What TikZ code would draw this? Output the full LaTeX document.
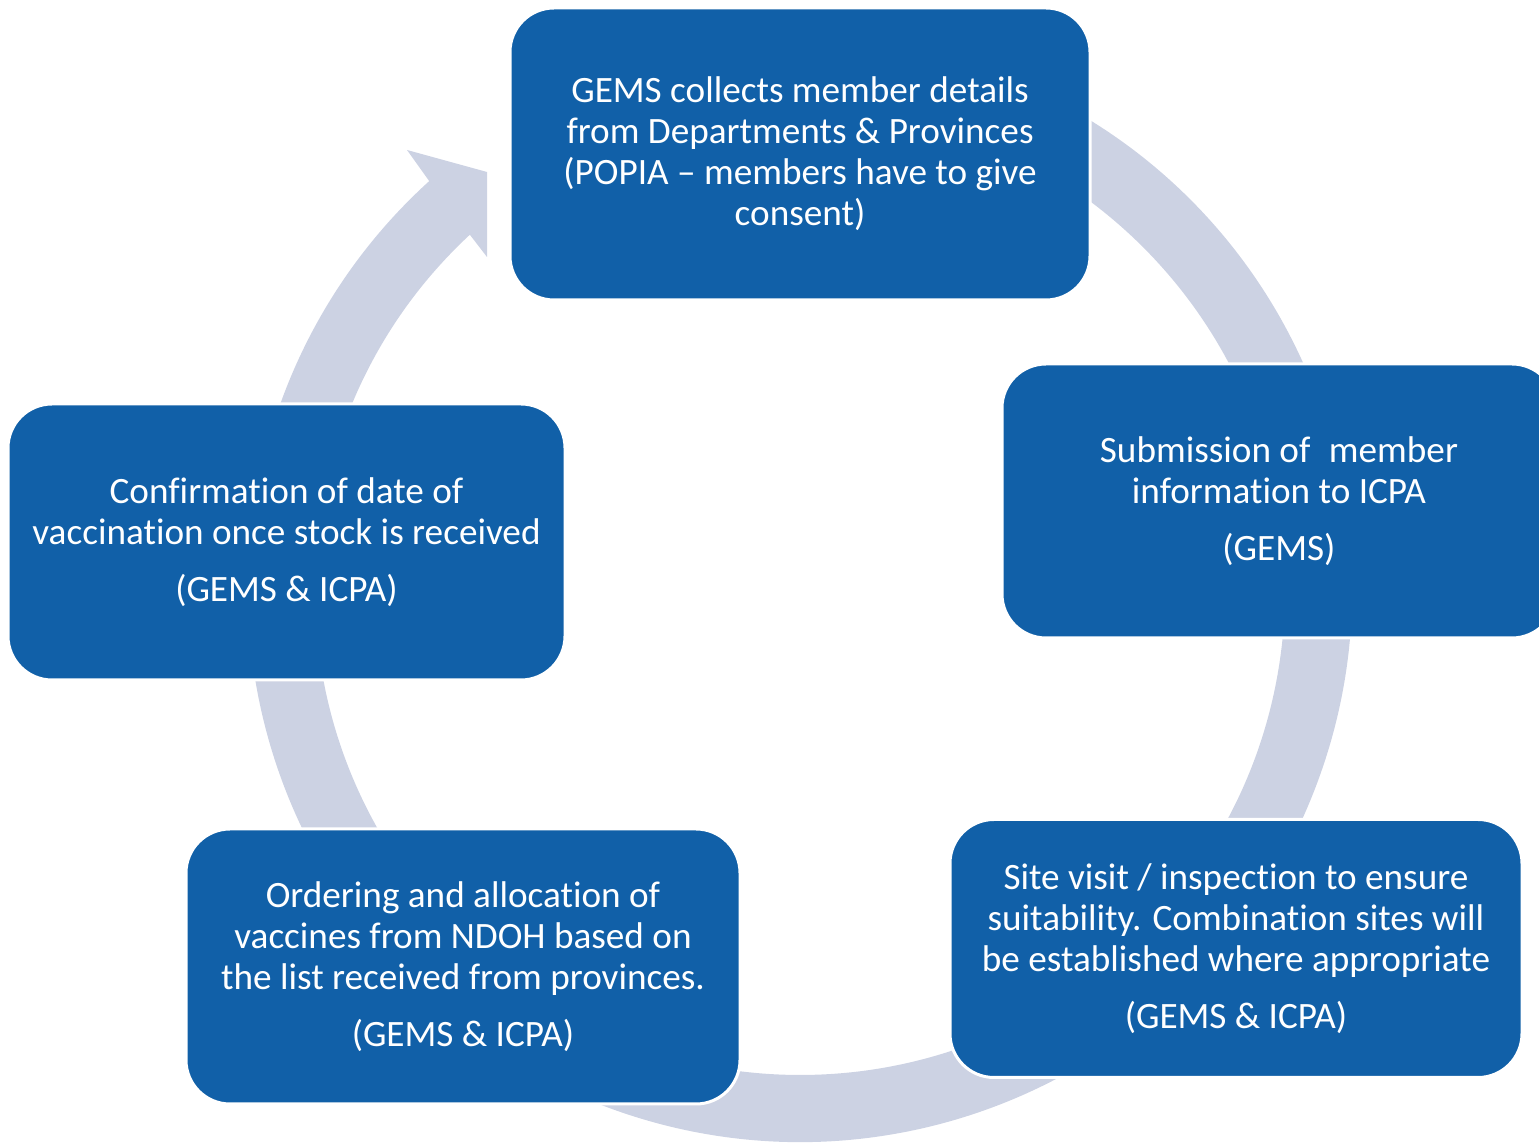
\documentclass[tikz,border=0pt]{standalone}
\usepackage{fontspec}
\setmainfont{Carlito}[Ligatures={NoCommon}, Contextuals={NoAlternate}]
\usetikzlibrary{calc}
\definecolor{boxblue}{RGB}{17,96,168}
\definecolor{ringgray}{RGB}{204,210,227}
\tikzset{
  stepbox/.style={rectangle, rounded corners=22pt, fill=boxblue, draw=white, line width=1.5pt,
    text=white, align=center, inner sep=0pt,
    font=\fontsize{18.6}{20.5}\selectfont},
}
\begin{document}
\begin{tikzpicture}[x=0.5pt,y=0.5pt]
\useasboundingbox (0,0) rectangle (1539,1146);
\clip (0,0) rectangle (1539,1146);
\coordinate (C) at (800,556);
% ring arrow
\fill[ringgray] ($(C)+(70:552)$) arc[start angle=70,end angle=-227.8,radius=552]
  -- (407,996) -- (487,974) -- (487,889) -- ($(C)+(-227.1:485)$)
  arc[start angle=-227.1,end angle=70,radius=485] -- cycle;
% boxes
\node[stepbox, minimum width=290pt, minimum height=146pt] (b1) at (800,992)
  {GEMS collects member details\\from Departments \& Provinces\\(POPIA – members have to give\\consent)};
\node[stepbox, minimum width=277pt, minimum height=137pt] (b2) at (1279,645)
  {Submission of\hspace{0.5em}member\\information to ICPA\\[8pt](GEMS)};
\node[stepbox, minimum width=286pt, minimum height=129pt] (b3) at (1236,197.5)
  {Site visit / inspection to ensure\\suitability. Combination sites will\\be established where appropriate\\[8pt](GEMS \& ICPA)};
\node[stepbox, minimum width=277pt, minimum height=137.5pt] (b4) at (463,179.5)
  {Ordering and allocation of\\vaccines from NDOH based on\\the list received from provinces.\\[8pt](GEMS \& ICPA)};
\node[stepbox, minimum width=278.5pt, minimum height=138pt] (b5) at (286.5,604)
  {Confirmation of date of\\vaccination once stock is received\\[8pt](GEMS \& ICPA)};
\end{tikzpicture}
\end{document}
